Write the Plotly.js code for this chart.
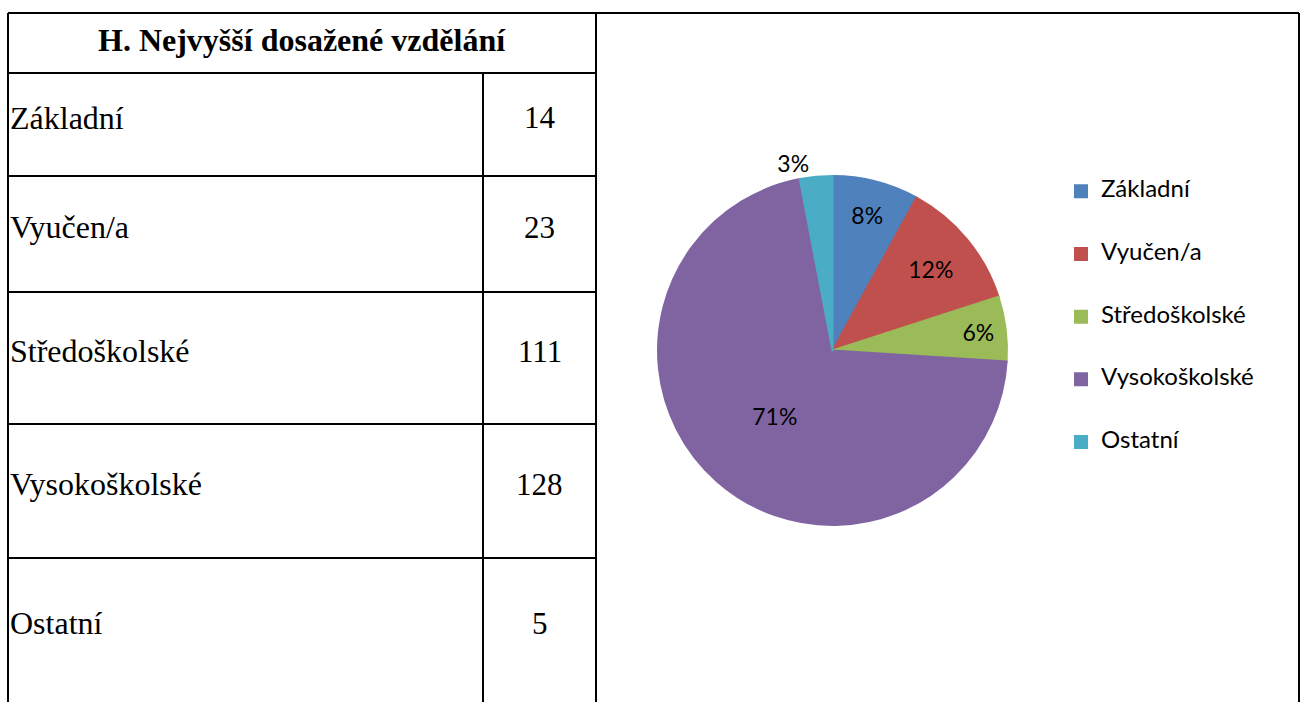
<!DOCTYPE html>
<html>
<head>
<meta charset="utf-8">
<script src="https://cdn.plot.ly/plotly-3.0.1.min.js"></script>
<style>html,body{margin:0;padding:0;background:#fff;}#chart{width:1302px;height:702px;}</style>
</head>
<body>
<div id="chart"></div>
<script>
// ---- data ----
const tableTitle = 'H. Nejvyšší dosažené vzdělání';
const categories = ['Základní', 'Vyučen/a', 'Středoškolské', 'Vysokoškolské', 'Ostatní'];
const tableValues = [14, 23, 111, 128, 5];
const pieShares = [8, 12, 6, 71, 3];
const colors = ['#4F81BD', '#C0504D', '#9BBB59', '#8064A2', '#4BACC6'];

// ---- layout geometry (pixels) ----
const W = 1302, H = 702;
const px = x => x / W;
const py = y => 1 - y / H;
const tableLeft = 8, tableDiv = 483, tableRight = 596, panelRight = 1299, topY = 13, headerBottom = 73;
const rowEdges = [73, 176, 292, 424, 558, 702];

const shapes = [];
function line(x0, y0, x1, y1) {
  shapes.push({type: 'line', xref: 'paper', yref: 'paper', x0: px(x0), y0: py(y0), x1: px(x1), y1: py(y1),
    line: {color: '#000', width: 2}});
}
line(tableLeft, topY, panelRight, topY);
line(tableLeft, topY, tableLeft, H);
line(tableRight, topY, tableRight, H);
line(panelRight, topY, panelRight, H);
line(tableDiv, headerBottom, tableDiv, H);
rowEdges.slice(0, 5).forEach(y => line(tableLeft, y, tableRight, y));

const serif = 'Liberation Serif, Times New Roman, serif';
const annotations = [{
  xref: 'paper', yref: 'paper', x: px((tableLeft + tableRight) / 2), y: py(40),
  text: '<b>' + tableTitle + '</b>', showarrow: false, xanchor: 'center', yanchor: 'middle',
  font: {family: serif, size: 32, color: '#000'}
}];
categories.forEach((c, i) => {
  const yc = (rowEdges[i] + rowEdges[i + 1]) / 2 - 7;
  annotations.push({xref: 'paper', yref: 'paper', x: px(tableLeft), y: py(yc), text: c, showarrow: false,
    xanchor: 'left', yanchor: 'middle', font: {family: serif, size: 32, color: '#000'}});
  annotations.push({xref: 'paper', yref: 'paper', x: px((tableDiv + tableRight) / 2), y: py(yc), text: String(tableValues[i]),
    showarrow: false, xanchor: 'center', yanchor: 'middle', font: {family: serif, size: 31, color: '#000'}});
});

const sans = 'Lato, Open Sans, sans-serif';
const legendLabels = categories.map(c => '&nbsp;<br><span style="font-size:24px">' + c + '</span><br>&nbsp;');

const trace = {
  type: 'pie',
  labels: legendLabels,
  values: pieShares,
  sort: false,
  direction: 'clockwise',
  rotation: 0,
  marker: {colors: colors, line: {color: colors, width: 2}},
  texttemplate: '%{percent:.0%}',
  textposition: ['inside', 'inside', 'inside', 'inside', 'outside'],
  insidetextorientation: 'horizontal',
  textfont: {family: sans, size: 23, color: '#000'},
  hoverinfo: 'none',
  domain: {x: [px(658), px(1007)], y: [py(525), py(176)]}
};

const layout = {
  width: W, height: H,
  margin: {l: 0, r: 0, t: 0, b: 0},
  paper_bgcolor: '#fff',
  showlegend: true,
  legend: {x: px(1061), y: py(317), xanchor: 'left', yanchor: 'middle',
    font: {family: sans, size: 15.3, color: '#000'}, bgcolor: 'rgba(0,0,0,0)'},
  shapes: shapes,
  annotations: annotations
};

Plotly.newPlot('chart', [trace], layout, {displayModeBar: false, staticPlot: true});
</script>
</body>
</html>
